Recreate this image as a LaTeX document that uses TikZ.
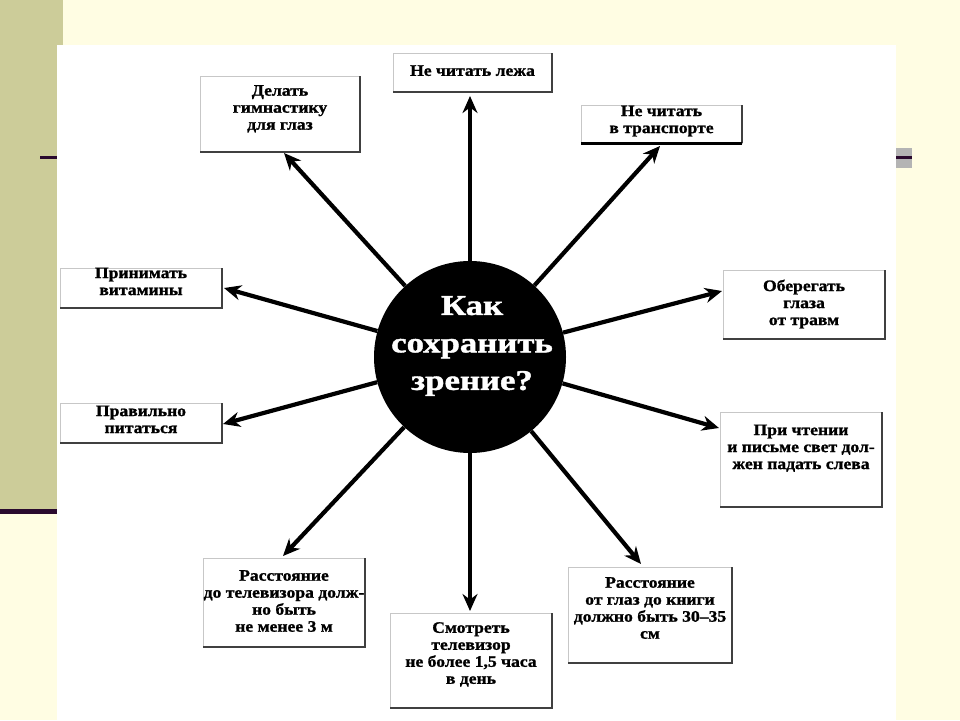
\documentclass[tikz,border=0pt]{standalone}
\usepackage{fontspec}
\setmainfont{Liberation Serif}
\newfontfamily\boxfont[FakeStretch=1.1, BoldFeatures={FakeBold=1.2}]{Liberation Serif}
\newfontfamily\circfont[FakeStretch=1.22, BoldFeatures={FakeBold=1.5}]{Liberation Serif}
\usetikzlibrary{arrows.meta}
\definecolor{cream}{HTML}{FFFDE3}
\definecolor{olivebar}{HTML}{CCCC99}
\definecolor{plum}{HTML}{2A0A2E}
\definecolor{bandgray}{HTML}{B4B4B4}
\begin{document}
\begin{tikzpicture}[x=1pt,y=-1pt,
 panel/.style={draw=black!22, line width=0.8pt, fill=white, inner sep=0pt, outer sep=0pt},
 boxtext/.style={font=\boxfont\bfseries\fontsize{16}{17}\selectfont, align=center, anchor=north, inner sep=0pt, execute at begin node=\rule{0pt}{12.6pt}},
 arr/.style={line width=4.2pt, -{Stealth[length=17pt,width=15pt]}},
 shadeline/.style={draw=black!75, line width=1.6pt}
]
\useasboundingbox (0,0) rectangle (960,720);
% background
\fill[cream] (0,0) rectangle (960,720);
\fill[olivebar] (0,0) rectangle (63,511);
\fill[plum] (0,509) rectangle (57,514);
\fill[plum] (40,156) rectangle (57,158.5);
\fill[bandgray] (896,148) rectangle (912,168);
\fill[plum] (896,156) rectangle (912,158.5);
\fill[white] (57,45) rectangle (896,720);

% centre
\node[circle, fill=black, minimum size=192pt, inner sep=0pt] (c) at (470,357) {};
\node[font=\circfont\bfseries\fontsize{28.5}{37.5}\selectfont, text=white, align=center, anchor=north, inner sep=0pt, execute at begin node=\rule{0pt}{26pt}] (ct) at (472,296) {Как\\сохранить\\зрение?};

% boxes
\node[panel, minimum width=160pt, minimum height=76pt] (b1) at (280,114) {};
\node[panel, minimum width=159pt, minimum height=39pt] (b2) at (472.5,72.5) {};
\node[panel, minimum width=161pt, minimum height=38pt] (b3) at (661.5,124) {};
\node[panel, minimum width=162pt, minimum height=40pt] (b4) at (141,288) {};
\node[panel, minimum width=162pt, minimum height=69pt] (b5) at (804,304.5) {};
\node[panel, minimum width=162pt, minimum height=40pt] (b6) at (141,423) {};
\node[panel, minimum width=162pt, minimum height=95pt] (b7) at (801,459.5) {};
\node[panel, minimum width=162pt, minimum height=89pt] (b8) at (284,602.5) {};
\node[panel, minimum width=162pt, minimum height=95pt] (b9) at (471,660.5) {};
\node[panel, minimum width=164pt, minimum height=96pt] (b10) at (650,615) {};

\foreach \b in {b1,b2,b4,b5,b6,b7,b8,b9,b10}
  \draw[shadeline] (\b.north east) -- (\b.south east) -- (\b.south west);
\draw[shadeline] (b3.north east) -- (b3.south east);
\draw[line width=3pt] (b3.south east) -- (b3.south west);

% texts
\node[boxtext] (x1) at (280,85) {Делать\\гимнастику\\для глаз};
\node[boxtext] (x2) at (472.5,63) {Не читать лежа};
\node[boxtext] (x3) at (661.5,105.4) {Не читать\\в транспорте};
\node[boxtext] (x4) at (141,267.4) {Принимать\\витамины};
\node[boxtext] (x5) at (804,279.4) {Оберегать\\глаза\\от травм};
\node[boxtext] (x6) at (141,405.4) {Правильно\\питаться};
\node[boxtext] (x7) at (801,424.4) {При чтении\\и письме свет дол-\\жен падать слева};
\node[boxtext] (x8) at (284,570) {Расстояние\\до телевизора долж-\\но быть\\не менее 3 м};
\node[boxtext] (x9) at (471,622) {Смотреть\\телевизор\\не более 1,5 часа\\в день};
\node[boxtext] (x10) at (650,577) {Расстояние\\от глаз до книги\\должно быть 30–35\\см};

% arrow tips
\coordinate (t1) at (284,153);
\coordinate (t2) at (470,96);
\coordinate (t3) at (660,146);
\coordinate (t4) at (224,288);
\coordinate (t5) at (722,291);
\coordinate (t6) at (223,424);
\coordinate (t7) at (719,428);
\coordinate (t8) at (283,556);
\coordinate (t9) at (470,611);
\coordinate (t10) at (641,564);
\foreach \t in {t1,t2,t3,t4,t5,t6,t7,t8,t9,t10}
  \draw[arr] (c) -- (\t);
\end{tikzpicture}
\end{document}
